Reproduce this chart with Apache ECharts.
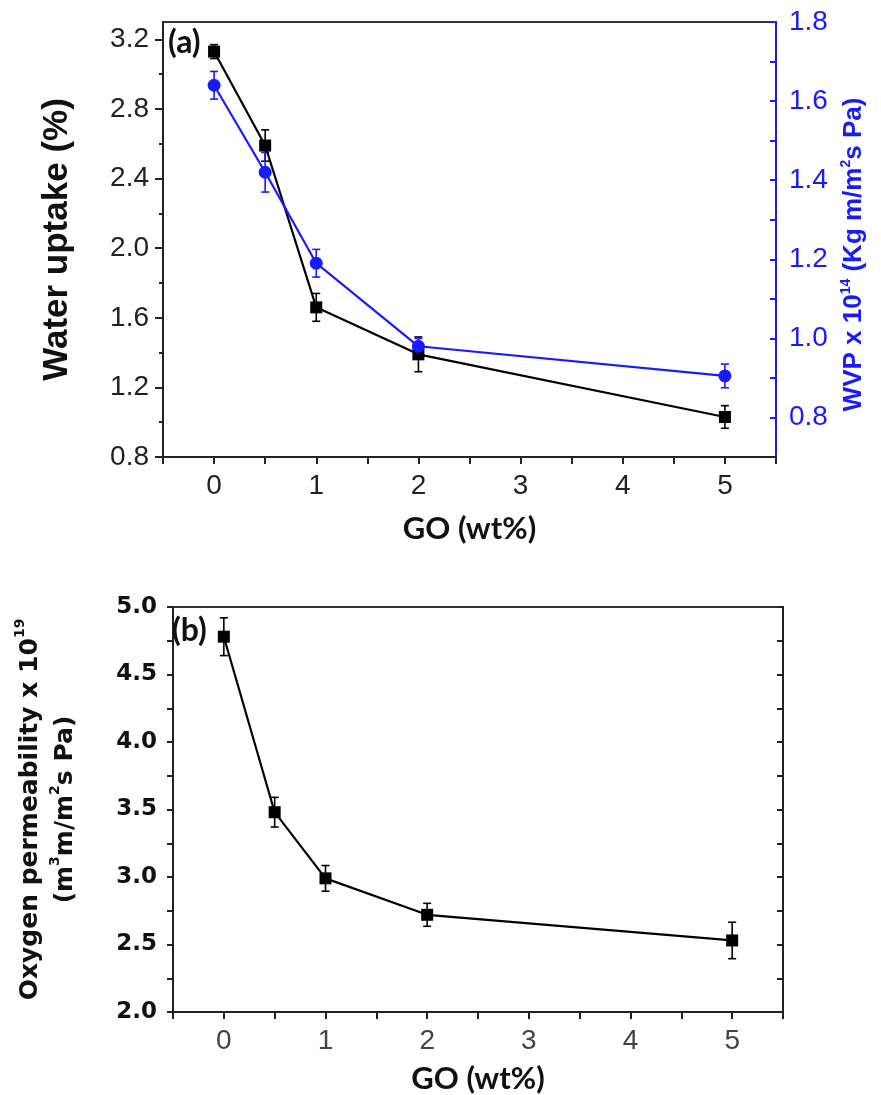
<!DOCTYPE html>
<html><head><meta charset="utf-8">
<script src="https://cdn.jsdelivr.net/npm/echarts@6/dist/echarts.min.js"></script>
<style>html,body{margin:0;padding:0;background:#fff}#c{width:881px;height:1095px}</style>
</head><body><div id="c"></div>
<script>
// ---- data ----
const goContent = [0, 0.5, 1, 2, 5];
const waterUptake = [3.13, 2.59, 1.66, 1.39, 1.03];
const waterUptakeErr = [0.04, 0.09, 0.08, 0.10, 0.065];
const wvp = [1.64, 1.42, 1.19, 0.98, 0.905];
const wvpErr = [0.035, 0.05, 0.035, 0.02, 0.03];
const oxygenPerm = [4.78, 3.48, 2.99, 2.72, 2.53];
const oxygenPermErr = [0.14, 0.11, 0.095, 0.085, 0.135];
// ---- tick labels ----
const xTickLabels = [0, 1, 2, 3, 4, 5];
const leftTicksA = [0.8, 1.2, 1.6, 2.0, 2.4, 2.8, 3.2];
const rightTicksA = [0.8, 1.0, 1.2, 1.4, 1.6, 1.8];
const rightMinorTicksA = [0.8, 0.9, 1.0, 1.1, 1.2, 1.3, 1.4, 1.5, 1.6, 1.7, 1.8];
const ticksB = [2.0, 2.5, 3.0, 3.5, 4.0, 4.5, 5.0];
const minorTicksB = [2.0, 2.25, 2.5, 2.75, 3.0, 3.25, 3.5, 3.75, 4.0, 4.25, 4.5, 4.75, 5.0];

const BLUE = '#1a1aff';
const DARK = '#222';

function pts(ys) { return goContent.map((g, i) => [g, ys[i]]); }
function errData(ys, es) { return goContent.map((g, i) => [g, ys[i], es[i]]); }
function errSeries(ys, es, xi, yi, color) {
  return {
    type: 'custom', xAxisIndex: xi, yAxisIndex: yi, z: 3,
    data: errData(ys, es), encode: { x: 0, y: 1 },
    renderItem: function (params, api) {
      const x = api.value(0), y = api.value(1), e = api.value(2);
      const t = api.coord([x, y + e]), b = api.coord([x, y - e]);
      const w = 4;
      const st = { stroke: color, lineWidth: 1.6 };
      return { type: 'group', children: [
        { type: 'line', shape: { x1: t[0], y1: t[1], x2: b[0], y2: b[1] }, style: st },
        { type: 'line', shape: { x1: t[0] - w, y1: t[1], x2: t[0] + w, y2: t[1] }, style: st },
        { type: 'line', shape: { x1: b[0] - w, y1: b[1], x2: b[0] + w, y2: b[1] }, style: st }
      ] };
    }
  };
}

function xAxisDef(gi, nameGap, labelColor, labelMargin) {
  return {
    type: 'value', gridIndex: gi, min: -0.5, max: 5.5, interval: 0.5,
    axisLine: { onZero: false, lineStyle: { color: DARK, width: 2 } },
    axisTick: { inside: false, length: 7, lineStyle: { color: DARK, width: 2 } },
    axisLabel: { customValues: xTickLabels, formatter: v => String(v), fontFamily: 'Liberation Sans', fontSize: 28, color: labelColor, margin: labelMargin },
    splitLine: { show: false },
    name: 'GO (wt%)', nameLocation: 'middle', nameGap: nameGap,
    nameTextStyle: { fontFamily: 'Lato', fontWeight: 'bold', fontSize: 31, color: '#111' }
  };
}

const chart = echarts.init(document.getElementById('c'), null, { renderer: 'canvas' });
chart.setOption({
  animation: false,
  backgroundColor: '#fff',
  grid: [
    { left: 163, top: 22, width: 613, height: 435, show: true, borderColor: '#333', borderWidth: 2, backgroundColor: 'transparent' },
    { left: 173, top: 607, width: 610, height: 405, show: true, borderColor: '#333', borderWidth: 2, backgroundColor: 'transparent' }
  ],
  xAxis: [ xAxisDef(0, 56, '#222', 15), xAxisDef(1, 51, '#444', 15) ],
  yAxis: [
    { type: 'value', gridIndex: 0, position: 'left', min: 0.8, max: 3.3, interval: 0.4,
      axisLine: { show: true, onZero: false, lineStyle: { color: DARK, width: 2 } },
      axisTick: { show: true, inside: false, length: 8, customValues: leftTicksA, lineStyle: { color: DARK, width: 2 } },
      minorTick: { show: true, splitNumber: 2, length: 4, lineStyle: { color: DARK, width: 2 } },
      axisLabel: { customValues: leftTicksA, formatter: v => v.toFixed(1), fontFamily: 'Liberation Sans', fontSize: 28, color: '#222', margin: 14 },
      splitLine: { show: false },
      name: 'Water uptake (%)', nameLocation: 'middle', nameRotate: 90, nameGap: 88,
      nameTextStyle: { fontFamily: 'Liberation Sans', fontWeight: 'bold', fontSize: 35, color: '#111' } },
    { type: 'value', gridIndex: 0, position: 'right', min: 0.7, max: 1.8,
      axisLine: { show: true, onZero: false, lineStyle: { color: BLUE, width: 2 } },
      axisTick: { show: true, inside: true, length: 6, customValues: rightMinorTicksA, lineStyle: { color: BLUE, width: 2 } },
      axisLabel: { customValues: rightTicksA, formatter: v => v.toFixed(1), fontFamily: 'Liberation Sans', fontSize: 28, color: BLUE, margin: 13 },
      splitLine: { show: false },
      name: '{t|WVP x 10}{s|14}{t| (Kg m/m}{s|2}{t|s Pa)}', nameLocation: 'middle', nameRotate: 90, nameGap: 58,
      nameTextStyle: { color: BLUE, fontFamily: 'Liberation Sans', fontWeight: 'bold', fontSize: 26, padding: [0, 30, 0, 0],
        rich: {
          t: { color: BLUE, fontFamily: 'Liberation Sans', fontWeight: 'bold', fontSize: 26, lineHeight: 30 },
          s: { color: BLUE, fontFamily: 'Liberation Sans', fontWeight: 'bold', fontSize: 14, lineHeight: 30, verticalAlign: 'top' }
        } } },
    { type: 'value', gridIndex: 1, position: 'left', min: 2, max: 5, interval: 0.5,
      axisLine: { show: true, onZero: false, lineStyle: { color: DARK, width: 2 } },
      axisTick: { show: true, inside: false, length: 6, customValues: minorTicksB, lineStyle: { color: DARK, width: 2 } },
      axisLabel: { customValues: ticksB, formatter: v => v.toFixed(1), fontFamily: 'DejaVu Sans', fontWeight: 'bold', fontSize: 23, color: '#111', margin: 16 },
      splitLine: { show: false },
      name: '{t|Oxygen permeability x 10}{s|19}\n{t|(m}{s|3}{t|m/m}{s|2}{t|s Pa)}', nameLocation: 'middle', nameRotate: 90, nameGap: 90,
      nameTextStyle: { color: '#111', fontFamily: 'DejaVu Sans', fontWeight: 'bold', fontSize: 25, align: 'center',
        rich: {
          t: { color: '#111', fontFamily: 'DejaVu Sans', fontWeight: 'bold', fontSize: 25, lineHeight: 35 },
          s: { color: '#111', fontFamily: 'DejaVu Sans', fontWeight: 'bold', fontSize: 14, lineHeight: 35, verticalAlign: 'top' }
        } } },
    { type: 'value', gridIndex: 1, position: 'right', min: 2, max: 5, interval: 0.5,
      axisLine: { show: true, onZero: false, lineStyle: { color: DARK, width: 2 } },
      axisTick: { show: true, inside: true, length: 6, customValues: minorTicksB, lineStyle: { color: DARK, width: 2 } },
      axisLabel: { show: false },
      splitLine: { show: false } }
  ],
  graphic: [
    { type: 'text', left: 168, top: 27, z: 10, style: { text: '(a)', fontFamily: 'Lato', fontWeight: 'bold', fontSize: 32, fill: '#111' } },
    { type: 'text', left: 172, top: 615, z: 10, style: { text: '(b)', fontFamily: 'Lato', fontWeight: 'bold', fontSize: 32, fill: '#111' } }
  ],
  series: [
    errSeries(waterUptake, waterUptakeErr, 0, 0, '#000'),
    { type: 'line', xAxisIndex: 0, yAxisIndex: 0, data: pts(waterUptake), symbol: 'rect', symbolSize: 12,
      lineStyle: { color: '#000', width: 2.2 }, itemStyle: { color: '#000' }, z: 4 },
    errSeries(wvp, wvpErr, 0, 1, BLUE),
    { type: 'line', xAxisIndex: 0, yAxisIndex: 1, data: pts(wvp), symbol: 'circle', symbolSize: 13,
      lineStyle: { color: BLUE, width: 2.2 }, itemStyle: { color: BLUE }, z: 5 },
    errSeries(oxygenPerm, oxygenPermErr, 1, 2, '#000'),
    { type: 'line', xAxisIndex: 1, yAxisIndex: 2, data: pts(oxygenPerm), symbol: 'rect', symbolSize: 12,
      lineStyle: { color: '#000', width: 2.2 }, itemStyle: { color: '#000' }, z: 4 }
  ]
});
</script>
</body></html>
